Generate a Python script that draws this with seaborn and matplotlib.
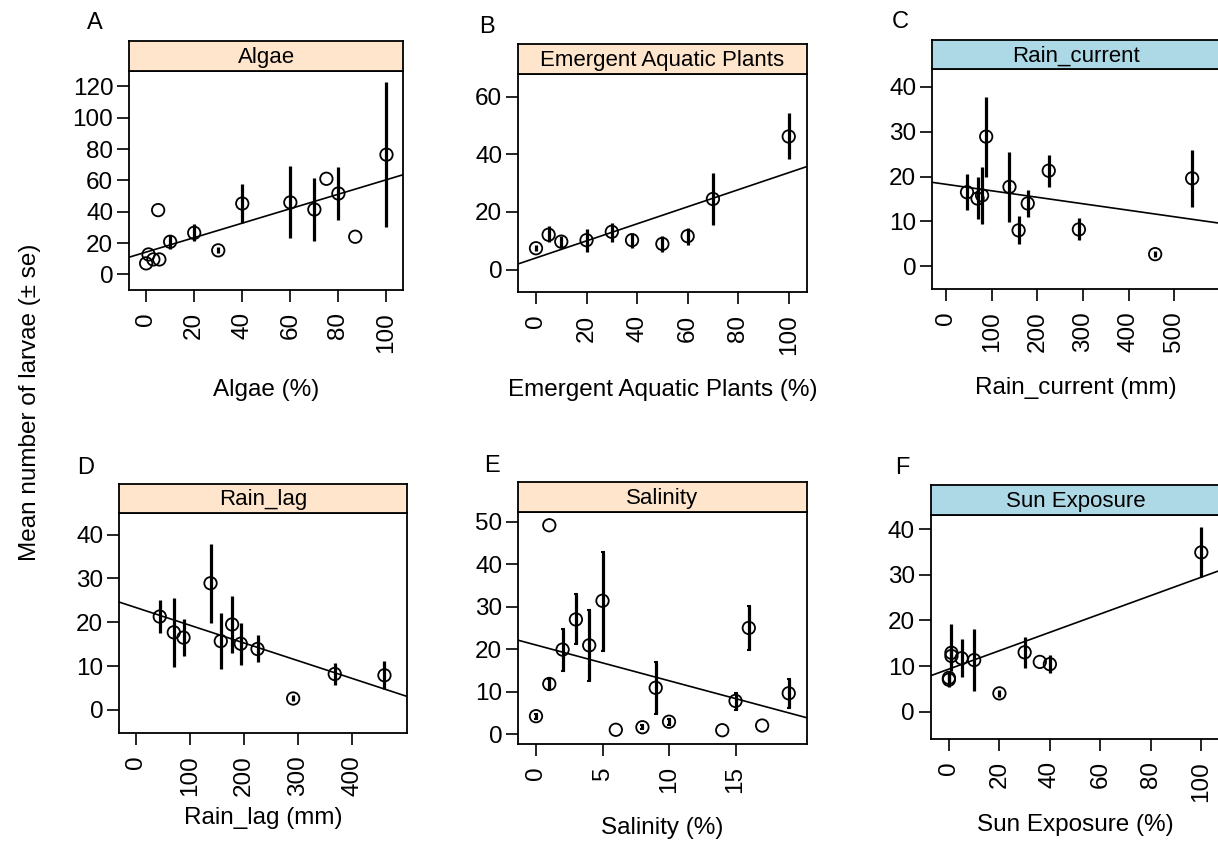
import numpy as np
import matplotlib
matplotlib.use("Agg")
import matplotlib.pyplot as plt
import seaborn as sns

nan = np.nan

# ---------------- data ----------------
algae_x = [0, 1, 3, 5, 5.5, 10, 20, 30, 40, 60, 70, 75, 80, 87, 100]
algae_y = [7, 12.7, 9.5, 41, 9.5, 20.8, 26.5, 15.3, 45.2, 45.9, 41.4, 61, 51.6, 24, 76.4]
algae_lo = [nan, nan, nan, nan, nan, 16.1, 21.4, 13.5, 32.5, 23.4, 21.2, nan, 34.6, nan, 30.4]
algae_hi = [nan, nan, nan, nan, nan, 25.3, 32.0, 17.2, 57.5, 69.0, 61.6, nan, 68.6, nan, 122.5]
algae_fit = [14.2, 0.462]  # intercept, slope

eap_x = [0, 5, 10, 20, 30, 38, 50, 60, 70, 100]
eap_y = [7.4, 12.1, 9.7, 10.2, 13.1, 10.2, 8.9, 11.6, 24.5, 46.2]
eap_lo = [6.3, 9.4, 7.4, 6.1, 9.7, 7.4, 6.0, 8.4, 15.4, 38.4]
eap_hi = [8.6, 15.1, 11.7, 14.1, 16.3, 12.6, 11.7, 14.3, 33.4, 54.2]
eap_fit = [4.04, 0.296]

rc_x = [46, 69, 79, 88, 139, 159, 179, 225, 291, 458, 539]
rc_y = [16.5, 15.1, 15.8, 28.9, 17.7, 8.0, 14.0, 21.3, 8.2, 2.7, 19.6]
rc_lo = [12.5, 10.5, 9.4, 20.0, 9.9, 4.9, 10.9, 17.7, 5.8, 2.0, 13.1]
rc_hi = [20.6, 19.8, 22.2, 37.8, 25.5, 11.2, 17.1, 24.9, 10.7, 3.4, 26.0]
rc_fit = [18.27, -0.01447]

rl_x = [44, 70, 88, 138, 157, 178, 194, 225, 291, 368, 460]
rl_y = [21.3, 17.7, 16.5, 28.9, 15.7, 19.5, 15.1, 13.9, 2.6, 8.2, 7.9]
rl_lo = [17.5, 9.7, 12.3, 19.9, 9.4, 12.9, 10.3, 10.9, 2.0, 5.7, 4.8]
rl_hi = [25.1, 25.5, 20.7, 37.9, 22.2, 26.0, 19.8, 17.2, 3.3, 10.6, 11.2]
rl_fit = [23.35, -0.0404]

sal_x = [0, 1, 1, 2, 3, 4, 5, 6, 8, 9, 10, 14, 15, 16, 17, 19]
sal_y = [4.2, 49.2, 11.8, 19.9, 27.0, 20.9, 31.4, 1.0, 1.6, 10.9, 2.9, 0.9, 7.8, 25.0, 2.0, 9.6]
sal_lo = [3.6, nan, 10.4, 14.9, 21.3, 12.4, 19.6, nan, 1.1, 4.7, 2.2, nan, 5.7, 19.9, nan, 6.1]
sal_hi = [4.8, nan, 13.0, 24.7, 32.9, 29.2, 42.9, nan, 2.1, 17.0, 3.6, nan, 9.7, 30.1, nan, 13.0]
sal_fit = [20.98, -0.842]

sun_x = [0, 0, 1, 1, 5, 10, 20, 30, 36, 40, 100]
sun_y = [7.0, 7.4, 12.9, 12.2, 11.7, 11.3, 4.0, 13.0, 10.9, 10.4, 34.9]
sun_lo = [5.3, 6.5, 9.0, 10.5, 7.5, 4.6, 3.1, 9.6, nan, 8.4, 29.5]
sun_hi = [9.0, 8.3, 19.1, 14.0, 16.0, 18.1, 4.8, 16.3, nan, 12.5, 40.4]
sun_fit = [9.33, 0.2014]

panel_letters = ["A", "B", "C", "D", "E", "F"]
strip_titles = ["Algae", "Emergent Aquatic Plants", "Rain_current",
                "Rain_lag", "Salinity", "Sun Exposure"]
x_labels = ["Algae (%)", "Emergent Aquatic Plants (%)", "Rain_current (mm)",
            "Rain_lag (mm)", "Salinity (%)", "Sun Exposure (%)"]
y_label = "Mean number of larvae (± se)"

x_ticks = [np.arange(0, 101, 20), np.arange(0, 101, 20), np.arange(0, 501, 100),
           np.arange(0, 401, 100), np.arange(0, 16, 5), np.arange(0, 101, 20)]
y_ticks = [np.arange(0, 121, 20), np.arange(0, 61, 20), np.arange(0, 41, 10),
           np.arange(0, 41, 10), np.arange(0, 51, 10), np.arange(0, 41, 10)]

PEACH = "#ffe5cc"
BLUE = "#add8e6"

# ---------------- style ----------------
sns.set_theme(style="white")
plt.rcParams['font.family'] = ['Liberation Sans', 'DejaVu Sans']
plt.rcParams['text.color'] = 'black'
plt.rcParams['axes.labelcolor'] = 'black'
plt.rcParams['xtick.color'] = 'black'
plt.rcParams['ytick.color'] = 'black'
plt.rcParams['axes.edgecolor'] = 'black'

W, H = 1218, 848
fig = plt.figure(figsize=(W / 100, H / 100), dpi=100)


def px_axes(x0, x1, ytop, ybot):
    return fig.add_axes([x0 / W, 1 - ybot / H, (x1 - x0) / W, (ybot - ytop) / H])


# layout in pixels: x0, x1, strip_top, box_top, box_bottom, xlim, ylim, letter pos, xlabel y, strip colour
layout = [
    (129.3, 403.3, 41.0, 70.7, 290.0, (-7, 107), (-10, 130), (95, 23), 390, PEACH),
    (518.3, 806.7, 44.0, 74.0, 292.3, (-7, 107.1), (-7.9, 67.9), (487, 27), 390, PEACH),
    (932.3, 1220.0, 40.0, 69.3, 288.7, (-30, 600), (-5, 43.9), (900, 22), 388, BLUE),
    (119.3, 406.7, 484.0, 512.7, 732.7, (-30.9, 501.2), (-5.2, 45.0), (86, 468), 818, PEACH),
    (518.3, 806.7, 481.7, 511.7, 744.0, (-1.33, 20.35), (-2.35, 52.4), (492, 466), 828, PEACH),
    (931.0, 1220.0, 485.0, 515.0, 739.0, (-7.1, 107.4), (-6.0, 43.1), (902, 468), 825, BLUE),
]

series = [
    (algae_x, algae_y, algae_lo, algae_hi, algae_fit),
    (eap_x, eap_y, eap_lo, eap_hi, eap_fit),
    (rc_x, rc_y, rc_lo, rc_hi, rc_fit),
    (rl_x, rl_y, rl_lo, rl_hi, rl_fit),
    (sal_x, sal_y, sal_lo, sal_hi, sal_fit),
    (sun_x, sun_y, sun_lo, sun_hi, sun_fit),
]

for i, ((x0, x1, st, bt, bb, xl, yl, lp, xly, scol), (xs, ys, lo, hi, fit)) in enumerate(zip(layout, series)):
    ax = px_axes(x0, x1, bt, bb)
    xs = np.asarray(xs, float)
    ys = np.asarray(ys, float)
    lo = np.asarray(lo, float)
    hi = np.asarray(hi, float)
    yerr = np.vstack([ys - lo, hi - ys])
    cap = 1.5 if i == 4 else 0
    ax.errorbar(xs, ys, yerr=yerr, fmt='none', ecolor='black', elinewidth=2.3,
                capsize=cap, capthick=1.5, zorder=2)
    sns.scatterplot(x=xs, y=ys, ax=ax, marker='o', s=80, facecolor='none',
                    edgecolor='black', linewidth=1.3, zorder=3)
    ax.axline((0, fit[0]), slope=fit[1], color='black', lw=1.2, zorder=1)

    ax.set_xlim(*xl)
    ax.set_ylim(*yl)
    ax.set_xticks(x_ticks[i])
    ax.set_yticks(y_ticks[i])
    ax.set_xticklabels([str(v) for v in x_ticks[i]], rotation=90)
    ax.tick_params(axis='x', direction='out', length=8.5, width=1.2, labelsize=17.5, pad=7.5,
                   bottom=True, top=False, colors='black')
    ax.tick_params(axis='y', direction='out', length=8.5, width=1.2, labelsize=17.5, pad=3,
                   left=True, right=False, colors='black')
    for sp in ax.spines.values():
        sp.set_linewidth(1.3)
        sp.set_color('black')
    ax.set_facecolor('white')

    # strip
    sax = px_axes(x0, x1, st, bt)
    sax.set_facecolor(scol)
    sax.set_xticks([])
    sax.set_yticks([])
    for sp in sax.spines.values():
        sp.set_linewidth(1.3)
        sp.set_color('black')
    sax.text(0.5, 0.45, strip_titles[i], ha='center', va='center', fontsize=16,
             color='black', transform=sax.transAxes)

    # panel letter
    fig.text(lp[0] / W, 1 - lp[1] / H, panel_letters[i], ha='center', va='center',
             fontsize=17, color='black')
    # x label
    fig.text((x0 + x1) / 2 / W, 1 - xly / H, x_labels[i], ha='center', va='center',
             fontsize=17.5, color='black')

fig.text(30 / W, 1 - 402 / H, y_label, rotation=90, ha='center', va='center',
         fontsize=17.5, color='black')

fig.savefig("out.png", dpi=100, facecolor='white')
